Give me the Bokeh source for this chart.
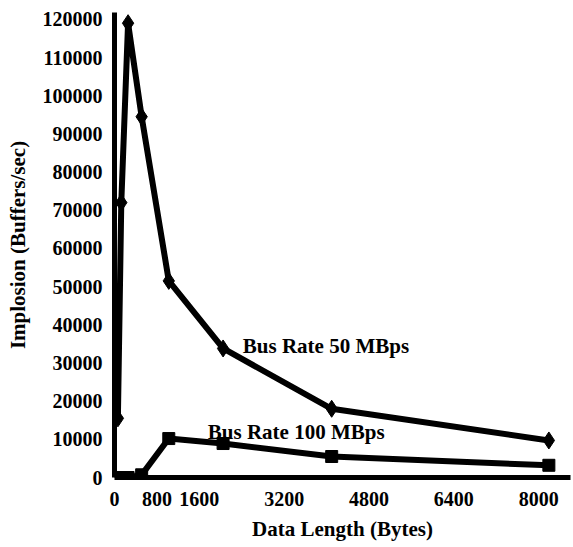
from bokeh.plotting import figure
from bokeh.models import Range1d, FixedTicker, Label, BasicTickFormatter
from bokeh.embed import file_html
from bokeh.resources import INLINE

# Data length in bytes and implosion rate (buffers/sec)
data_length_50 = [64, 128, 256, 512, 1024, 2048, 4096, 8192]
implosion_50 = [15500, 72000, 119000, 94500, 51500, 33800, 18000, 9700]

data_length_100 = [64, 128, 256, 512, 1024, 2048, 4096, 8192]
implosion_100 = [0, 0, 0, 700, 10200, 8900, 5500, 3200]

x_ticks = [0, 800, 1600, 3200, 4800, 6400, 8000]
y_ticks = [0, 10000, 20000, 30000, 40000, 50000, 60000, 70000, 80000, 90000,
           100000, 110000, 120000]

FONT = "Liberation Serif"

p = figure(width=573, height=547, output_backend="svg", toolbar_location=None,
           min_border_left=114, min_border_right=3, min_border_top=12,
           min_border_bottom=70)
p.x_range = Range1d(0, 8600)
p.y_range = Range1d(0, 121800)
p.outline_line_color = None
p.xgrid.grid_line_color = None
p.ygrid.grid_line_color = None
p.background_fill_color = "white"
p.border_fill_color = "white"

for ax in (p.xaxis[0], p.yaxis[0]):
    ax.axis_line_width = 5
    ax.axis_line_color = "black"
    ax.major_tick_line_color = None
    ax.minor_tick_line_color = None
    ax.major_label_text_font = FONT
    ax.major_label_text_font_style = "bold"
    ax.major_label_text_font_size = "20px"
    ax.major_label_text_color = "black"
    ax.axis_label_text_font = FONT
    ax.axis_label_text_font_style = "bold"
    ax.axis_label_text_font_size = "21px"
    ax.axis_label_text_color = "black"

p.xaxis.ticker = FixedTicker(ticks=x_ticks)
p.yaxis.ticker = FixedTicker(ticks=y_ticks)
p.xaxis.formatter = BasicTickFormatter(use_scientific=False)
p.yaxis.formatter = BasicTickFormatter(use_scientific=False)
p.xaxis.major_label_standoff = 8
p.yaxis.major_label_standoff = 6
p.xaxis.axis_label = "Data Length (Bytes)"
p.yaxis.axis_label = "Implosion (Buffers/sec)"
p.xaxis.axis_label_standoff = 8
p.yaxis.axis_label_standoff = 10

# Bus Rate 50 MBps series
p.line(data_length_50, implosion_50, line_width=6, line_color="black")
p.scatter(data_length_50, implosion_50, marker="diamond", size=17,
          fill_color="black", line_color="black")

# Bus Rate 100 MBps series
p.line(data_length_100, implosion_100, line_width=6, line_color="black")
p.scatter(data_length_100, implosion_100, marker="square", size=12,
          fill_color="black", line_color="black")

p.add_layout(Label(x=2420, y=34500, text="Bus Rate 50 MBps",
                   text_font=FONT, text_font_size="21px", text_font_style="bold",
                   text_baseline="middle", text_color="black"))
p.add_layout(Label(x=1760, y=11800, text="Bus Rate 100 MBps",
                   text_font=FONT, text_font_size="21px", text_font_style="bold",
                   text_baseline="middle", text_color="black"))

open("out.html", "w").write(file_html(p, INLINE))
